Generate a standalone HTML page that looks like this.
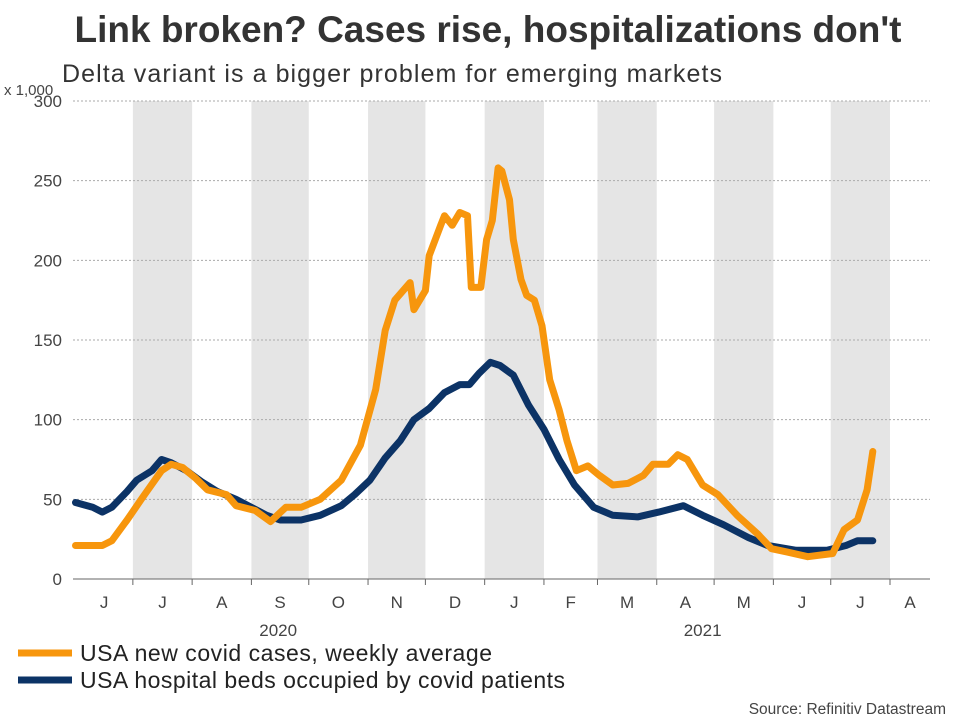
<!DOCTYPE html>
<html><head><meta charset="utf-8">
<style>
html,body{margin:0;padding:0;background:#fff;}
body{width:960px;height:720px;overflow:hidden;font-family:"Liberation Sans",Arial,sans-serif;}
svg text{font-family:"Liberation Sans",Arial,sans-serif;}
</style></head>
<body>
<svg id="chart" width="960" height="720">
<text x="488" y="42" text-anchor="middle" font-size="37" font-weight="bold" fill="#333" textLength="827">Link broken? Cases rise, hospitalizations don't</text>
<text x="62" y="82" font-size="25" fill="#333" textLength="660">Delta variant is a bigger problem for emerging markets</text>
<text x="4" y="95" font-size="15" fill="#444">x 1,000</text>
<g id="bands"></g><g id="grid"></g><g id="xaxis"></g><g id="yaxis"></g><g id="series"></g>
<line x1="18" y1="653" x2="72" y2="653" stroke="#f7960d" stroke-width="7"/>
<text x="80" y="661" font-size="23" fill="#222" textLength="412">USA new covid cases, weekly average</text>
<line x1="18" y1="680" x2="72" y2="680" stroke="#0c3366" stroke-width="7"/>
<text x="80" y="688" font-size="23" fill="#222" textLength="485">USA hospital beds occupied by covid patients</text>
<text x="946" y="714" text-anchor="end" font-size="15.5" fill="#444">Source: Refinitiv Datastream</text>
</svg>
<script>
// day index from 2020-06-01
const yTicks=[0,50,100,150,200,250,300];
const monthLabels=["J","J","A","S","O","N","D","J","F","M","A","M","J","J","A"];
const monthStarts=[0,30,61,92,122,153,183,214,245,273,304,334,365,395,426,457];
const yearLabels=["2020","2021"];
const yearCenters=[106,328];
const casesDays=[0,14,19,27,35,45,50,56,63,69,79,84,94,102,110,118,128,139,149,157,162,167,175,177,183,185,191,193,197,201,205,207,212,215,218,221,223,227,229,233,236,240,244,248,253,257,262,268,274,281,289,297,302,310,315,320,328,336,346,357,364,372,383,396,402,409,414,417];
const casesVals=[21,21,24,37,51,68,72,70,63,56,53,46,43,36,45,45,50,62,84,119,156,175,186,169,181,203,222,228,222,230,228,183,183,213,225,258,256,238,213,188,178,175,159,125,106,87,68,71,65,59,60,65,72,72,78,75,59,53,40,28,19,17,14,16,31,37,56,80];
const hospDays=[0,9,14,19,27,32,40,45,50,58,66,74,84,92,100,107,118,128,139,146,154,162,170,177,185,193,201,206,211,217,222,229,237,245,253,261,271,281,294,305,318,328,339,352,362,377,393,403,409,417];
const hospVals=[48,45,42,45,55,62,68,75,73,68,61,55,50,45,40,37,37,40,46,53,62,76,87,100,107,117,122,122,129,136,134,128,109,94,75,59,45,40,39,42,46,40,34,26,21,18,18,21,24,24];

const X0=75.5,DX=1.912,Y0=579,YK=478/300,XL=73,XR=930;
const xs=d=>X0+d*DX, ys=v=>Y0-v*YK;
const NS="http://www.w3.org/2000/svg";
function mk(tag,attrs,parent,txt){const e=document.createElementNS(NS,tag);for(const k in attrs)e.setAttribute(k,attrs[k]);if(txt!==undefined)e.textContent=txt;document.getElementById(parent).appendChild(e);return e;}

for(let i=1;i<monthStarts.length-1;i+=2){
 const r=mk('rect',{x:xs(monthStarts[i]),y:ys(300),width:xs(monthStarts[i+1])-xs(monthStarts[i]),height:ys(0)-ys(300),fill:'#e5e5e5'},'bands');
 
 
}
yTicks.forEach(t=>{
 if(t>0){const l=mk('line',{x1:XL,x2:XR,y1:ys(t),y2:ys(t),stroke:'#aaa','stroke-dasharray':'2,2','stroke-width':1},'grid');
 
 }
 const tx=mk('text',{x:62,y:ys(t)+6,'text-anchor':'end','font-size':17,fill:'#444'},'yaxis',t);
 
 
});
const ax=mk('line',{x1:XL,x2:XR,y1:Y0,y2:Y0,stroke:'#666','stroke-width':1},'xaxis');


monthLabels.forEach((m,i)=>{
 if(i>0){const tk=mk('line',{x1:xs(monthStarts[i]),x2:xs(monthStarts[i]),y1:Y0,y2:Y0+6,stroke:'#666'},'xaxis');
 
 }
 const c=Math.min((xs(monthStarts[i])+xs(monthStarts[i+1]))/2, 910);
 const tx=mk('text',{x:c,y:608,'text-anchor':'middle','font-size':17,fill:'#444'},'xaxis',m);
 
 
});
yearLabels.forEach((y,i)=>{
 const tx=mk('text',{x:xs(yearCenters[i]),y:636,'text-anchor':'middle','font-size':17,fill:'#444'},'xaxis',y);
 
 
});
function line(days,vals,color,name){
 const d=days.map((dd,i)=>(i?'L':'M')+xs(dd).toFixed(1)+','+ys(vals[i]).toFixed(1)).join(' ');
 const p=mk('path',{d:d,fill:'none',stroke:color,'stroke-width':7,'stroke-linejoin':'round','stroke-linecap':'round'},'series');
 
 
}
line(hospDays,hospVals,'#0c3366','hospital-line');
line(casesDays,casesVals,'#f7960d','cases-line');
</script>
</body></html>
